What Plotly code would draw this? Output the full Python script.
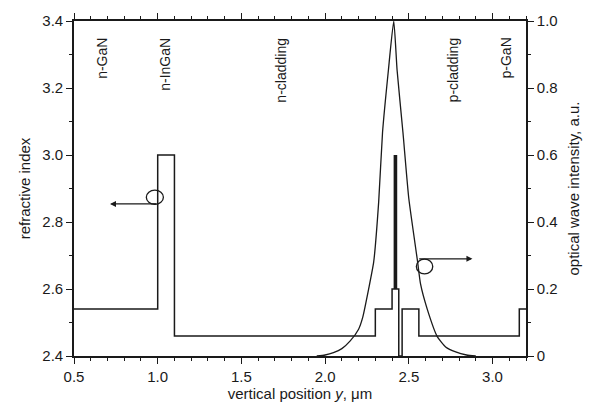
import plotly.graph_objects as go

# Refractive index profile (step edges, value holds until next edge)
prof_x = [0.5, 1.0, 1.1, 2.30, 2.40, 2.44, 2.46, 2.56, 3.16, 3.2]
prof_n = [2.54, 3.0, 2.46, 2.54, 2.60, 2.40, 2.54, 2.46, 2.54, 2.54]

# Quantum-well region (thick bar)
qw_x = [2.42, 2.42]
qw_n = [2.60, 3.0]

# Optical wave intensity
int_x = [1.95, 2.00, 2.05, 2.10, 2.15, 2.20, 2.225, 2.26, 2.29, 2.32, 2.343, 2.378,
         2.41, 2.43, 2.465, 2.50, 2.552, 2.57, 2.61, 2.67, 2.72, 2.78, 2.845, 2.90]
int_y = [0.0, 0.003, 0.01, 0.022, 0.045, 0.08, 0.116, 0.2, 0.28, 0.46, 0.667, 0.853,
         1.0, 0.853, 0.667, 0.47, 0.283, 0.215, 0.14, 0.058, 0.027, 0.012, 0.003, 0.0]

# Layer labels
lab_text = ["n-GaN", "n-InGaN", "n-cladding", "p-cladding", "p-GaN"]
lab_x = [0.667, 1.043, 1.735, 2.761, 3.078]

# Tick labels
x_ticks = [0.5, 1.0, 1.5, 2.0, 2.5, 3.0]
n_ticks = [2.4, 2.6, 2.8, 3.0, 3.2, 3.4]
i_ticks = [0, 0.2, 0.4, 0.6, 0.8, 1.0]
i_ticktext = ["0", "0.2", "0.4", "0.6", "0.8", "1.0"]

FONT = "Liberation Sans, Arial, sans-serif"
LC = "#1a1a1a"

fig = go.Figure()
fig.add_trace(go.Scatter(x=prof_x, y=prof_n, mode="lines", line=dict(color=LC, width=1.5, shape="hv"),
                         showlegend=False, hoverinfo="skip"))
fig.add_trace(go.Scatter(x=qw_x, y=qw_n, mode="lines", line=dict(color=LC, width=3.6),
                         showlegend=False, hoverinfo="skip"))
fig.add_trace(go.Scatter(x=int_x, y=int_y, mode="lines", yaxis="y2",
                         line=dict(color=LC, width=1.3, shape="spline", smoothing=0.5),
                         showlegend=False, hoverinfo="skip"))

for t, x in zip(lab_text, lab_x):
    fig.add_annotation(x=x, y=3.357, xref="x", yref="y", text=t, showarrow=False, textangle=-90,
                       xanchor="center", yanchor="top", font=dict(family=FONT, size=14, color=LC))

# Circles and arrows
fig.add_shape(type="circle", xref="x", yref="y", x0=0.932, x1=1.034, y0=2.853, y1=2.895,
              line=dict(color=LC, width=1.3))
fig.add_annotation(x=0.715, y=2.854, ax=1.0, ay=2.854, xref="x", yref="y", axref="x", ayref="y",
                   text="", showarrow=True, arrowhead=2, arrowsize=1, arrowwidth=1.2, arrowcolor=LC)
fig.add_shape(type="circle", xref="x", yref="y2", x0=2.545, x1=2.643, y0=0.245, y1=0.289,
              line=dict(color=LC, width=1.3))
fig.add_annotation(x=2.88, y=0.29, ax=2.553, ay=0.29, xref="x", yref="y2", axref="x", ayref="y2",
                   text="", showarrow=True, arrowhead=2, arrowsize=1, arrowwidth=1.2, arrowcolor=LC)

axis_common = dict(showline=True, linecolor=LC, linewidth=1.6, ticks="outside", ticklen=6,
                   tickwidth=1.3, tickcolor=LC, showgrid=False, zeroline=False,
                   tickfont=dict(family=FONT, size=15, color=LC))

fig.update_layout(
    width=592, height=412,
    margin=dict(l=74, r=64, t=17, b=56),
    paper_bgcolor="white", plot_bgcolor="white",
    xaxis=dict(range=[0.5, 3.2], tickvals=x_ticks, ticktext=[f"{v:.1f}" for v in x_ticks], mirror="ticks",
               minor=dict(dtick=0.1, tick0=0.5, ticks="outside", ticklen=3, tickwidth=1.2, tickcolor=LC),
               title=dict(text="vertical position <i>y</i>, μm", font=dict(family=FONT, size=15, color=LC),
                          standoff=4),
               **axis_common),
    yaxis=dict(range=[2.4, 3.4], tickvals=n_ticks, ticktext=[f"{v:.1f}" for v in n_ticks],
               minor=dict(dtick=0.1, tick0=2.4, ticks="outside", ticklen=3, tickwidth=1.2, tickcolor=LC),
               title=dict(text="refractive index", font=dict(family=FONT, size=15, color=LC), standoff=8),
               **axis_common),
    yaxis2=dict(range=[0, 1.0], overlaying="y", side="right", tickvals=i_ticks, ticktext=i_ticktext,
                minor=dict(dtick=0.1, tick0=0, ticks="outside", ticklen=3, tickwidth=1.2, tickcolor=LC),
                title=dict(text="optical wave intensity, a.u.", font=dict(family=FONT, size=15, color=LC),
                           standoff=12),
                **axis_common),
)

fig.write_html("out.html")
